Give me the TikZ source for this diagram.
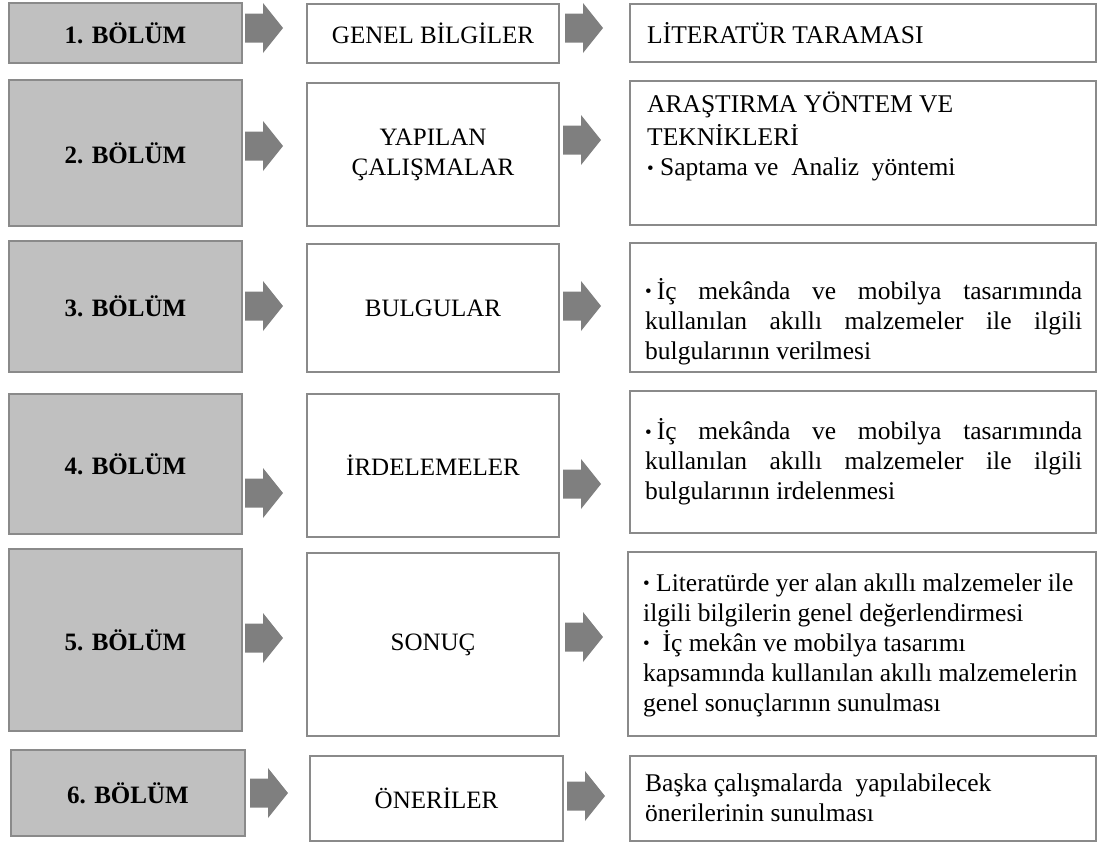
\documentclass[tikz,border=0pt]{standalone}
\usepackage{fontspec}
\setmainfont{Liberation Serif}
\usetikzlibrary{positioning}

\definecolor{boxline}{RGB}{138,138,138}
\definecolor{partfill}{RGB}{192,192,192}
\definecolor{arrowfill}{RGB}{127,127,127}
\newcommand{\bul}{{\fontsize{19}{19}\selectfont\raisebox{1.5pt}{•}}}
\newcommand{\jline}[1]{\makebox[437pt][s]{#1}}

\begin{document}
\begin{tikzpicture}[x=1pt, y=-1pt,
  part/.style={rectangle, draw=boxline, line width=2pt, fill=partfill, anchor=north west,
    font=\fontsize{25}{30}\selectfont\bfseries},
  topic/.style={rectangle, draw=boxline, line width=2pt, anchor=north west, align=center,
    font=\fontsize{25}{30}\selectfont},
  detail/.style={rectangle, draw=boxline, line width=2pt, anchor=north west},
  note/.style={inner sep=0pt, align=left, font=\fontsize{25.5}{30}\selectfont},
  flowarrow/.style={fill=arrowfill}
]
\useasboundingbox (0,0) rectangle (1097,841);

% bolum boxes
\node[part, minimum width=233pt, minimum height=60pt]  (p1) at (8,2)    {1. BÖLÜM};
\node[part, minimum width=233pt, minimum height=146pt] (p2) at (8,79)   {2. BÖLÜM};
\node[part, minimum width=233pt, minimum height=131pt] (p3) at (8,240)  {3. BÖLÜM};
\node[part, minimum width=233pt, minimum height=140pt] (p4) at (8,393)  {4. BÖLÜM};
\node[part, minimum width=233pt, minimum height=182pt] (p5) at (8,548)  {5. BÖLÜM};
\node[part, minimum width=234pt, minimum height=86pt]  (p6) at (10,749) {6. BÖLÜM};

% topic boxes
\node[topic, minimum width=252pt, minimum height=59pt]  (t1) at (306,3)   {GENEL BİLGİLER};
\node[topic, minimum width=252pt, minimum height=143pt] (t2) at (306,82)  {YAPILAN\\ÇALIŞMALAR};
\node[topic, minimum width=252pt, minimum height=128pt] (t3) at (306,243) {BULGULAR};
\node[topic, minimum width=252pt, minimum height=143pt] (t4) at (306,393) {İRDELEMELER};
\node[topic, minimum width=252pt, minimum height=183pt] (t5) at (306,552) {SONUÇ};
\node[topic, minimum width=253pt, minimum height=85pt]  (t6) at (309,755) {ÖNERİLER};

% detail boxes
\node[detail, minimum width=466pt, minimum height=58pt]  (d1) at (629,3)   {};
\node[detail, minimum width=466pt, minimum height=144pt] (d2) at (629,80)  {};
\node[detail, minimum width=466pt, minimum height=129pt] (d3) at (629,242) {};
\node[detail, minimum width=466pt, minimum height=142pt] (d4) at (629,390) {};
\node[detail, minimum width=468pt, minimum height=184pt] (d5) at (627,551) {};
\node[detail, minimum width=466pt, minimum height=85pt]  (d6) at (629,755) {};

\node[note, anchor=west] (n1) at ([xshift=18pt]d1.west) {LİTERATÜR TARAMASI};
\node[note, anchor=north west] (n2) at ([xshift=18pt, yshift=-12pt]d2.north west)
  {ARAŞTIRMA YÖNTEM VE\\[3pt]TEKNİKLERİ\\\bul\ Saptama ve \ Analiz \ yöntemi};
\node[note, anchor=west] (n3) at ([xshift=16pt, yshift=-14pt]d3.west)
  {\jline{\bul\kern5pt İç mekânda ve mobilya tasarımında}\\
   \jline{kullanılan akıllı malzemeler ile ilgili}\\
   bulgularının verilmesi};
\node[note, anchor=west] (n4) at ([xshift=16pt]d4.west)
  {\jline{\bul\kern5pt İç mekânda ve mobilya tasarımında}\\
   \jline{kullanılan akıllı malzemeler ile ilgili}\\
   bulgularının irdelenmesi};
\node[note, anchor=west] (n5) at ([xshift=16pt, yshift=-1pt]d5.west)
  {\bul\ Literatürde yer alan akıllı malzemeler ile\\
   ilgili bilgilerin genel değerlendirmesi\\
   \bul\ \ İç mekân ve mobilya tasarımı\\
   kapsamında kullanılan akıllı malzemelerin\\
   genel sonuçlarının sunulması};
\node[note, anchor=west] (n6) at ([xshift=16pt, yshift=1pt]d6.west)
  {Başka çalışmalarda \ yapılabilecek\\önerilerinin sunulması};

% block arrows
\foreach \ax/\ay in {245/28, 245/146, 245/306, 245/493, 245/638, 250/793,
                     565/28, 563/140, 563/306, 563/484, 565/637, 567/796}
  \fill[flowarrow] (\ax,\ay-14.5) -- ++(18,0) -- ++(0,-10.5) -- ++(20,25)
    -- ++(-20,25) -- ++(0,-10.5) -- ++(-18,0) -- cycle;
\end{tikzpicture}
\end{document}
